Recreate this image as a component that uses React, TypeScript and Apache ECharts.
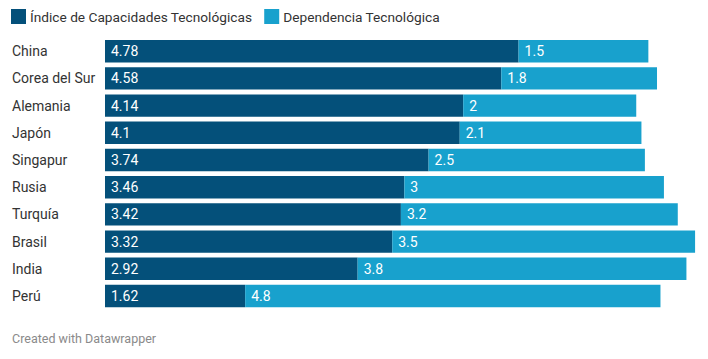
import React, { useEffect, useRef } from "react";
import * as echarts from "echarts";

const categories = ["China", "Corea del Sur", "Alemania", "Japón", "Singapur", "Rusia", "Turquía", "Brasil", "India", "Perú"];
const capacidades = [4.78, 4.58, 4.14, 4.1, 3.74, 3.46, 3.42, 3.32, 2.92, 1.62];
const dependencia = [1.5, 1.8, 2, 2.1, 2.5, 3, 3.2, 3.5, 3.8, 4.8];
const seriesNames = ["Índice de Capacidades Tecnológicas", "Dependencia Tecnológica"];

const FONT = "Roboto, 'Noto Sans', sans-serif";

export default function App() {
  const ref = useRef<HTMLDivElement>(null);
  useEffect(() => {
    if (!ref.current) return;
    const chart = echarts.init(ref.current, undefined, { renderer: "svg" });
    const label = {
      show: true,
      position: "insideLeft",
      distance: 6,
      color: "#ffffff",
      fontSize: 14,
      fontFamily: FONT,
    };
    chart.setOption({
      animation: false,
      backgroundColor: "#ffffff",
      textStyle: { fontFamily: FONT },
      legend: {
        left: 11,
        top: 9,
        padding: 0,
        itemWidth: 15,
        itemHeight: 15,
        itemGap: 12,
        icon: "rect",
        textStyle: { fontSize: 13.7, color: "#333333", fontFamily: FONT, padding: [0, 0, 0, -1] },
        data: seriesNames,
      },
      grid: { left: 105, right: 6, top: 37.6, height: 272, containLabel: false },
      xAxis: {
        type: "value",
        min: 0,
        max: 6.9,
        show: false,
      },
      yAxis: {
        type: "category",
        inverse: true,
        data: categories,
        axisLine: { show: false },
        axisTick: { show: false },
        axisLabel: {
          align: "left",
          margin: 93,
          color: "#333333",
          fontSize: 14,
          fontFamily: FONT,
        },
      },
      series: [
        {
          name: seriesNames[0],
          type: "bar",
          stack: "total",
          data: capacidades,
          barCategoryGap: "17.6%",
          itemStyle: { color: "#04507a" },
          label,
        },
        {
          name: seriesNames[1],
          type: "bar",
          stack: "total",
          data: dependencia,
          barCategoryGap: "17.6%",
          itemStyle: { color: "#18a1cd" },
          label,
        },
      ],
      graphic: [
        {
          type: "text",
          left: 12,
          top: 332,
          style: { text: "Created with Datawrapper", fontSize: 12.5, fill: "#8a8a8a", fontFamily: FONT },
        },
      ],
    });
    return () => chart.dispose();
  }, []);
  return <div ref={ref} style={{ position: "fixed", left: 0, top: 0, width: 708, height: 359 }} />;
}
